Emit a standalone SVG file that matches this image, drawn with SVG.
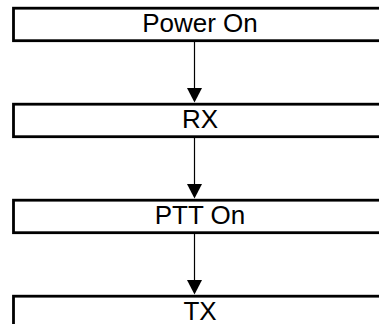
<svg xmlns="http://www.w3.org/2000/svg" width="379" height="324" viewBox="0 0 379 324">
<style>
.box{fill:#fff;stroke:#000;stroke-width:2.8}
.lbl{font-family:"Liberation Sans",Arial,sans-serif;font-size:26px;fill:#000;text-anchor:middle}
.conn{stroke:#000;stroke-width:1.2;fill:none}
.head{fill:#000}
</style>
<rect width="379" height="324" fill="#fff"/>
<g id="connectors">
<line class="conn" x1="194.5" y1="42" x2="194.5" y2="89"/>
<polygon class="head" points="187,88 202,88 194.5,102.5"/>
<line class="conn" x1="194.5" y1="138" x2="194.5" y2="185"/>
<polygon class="head" points="187,184 202,184 194.5,198.5"/>
<line class="conn" x1="194.5" y1="234" x2="194.5" y2="281"/>
<polygon class="head" points="187,280 202,280 194.5,294.5"/>
</g>
<g id="power-on">
<rect class="box" x="13.5" y="8.2" width="374" height="32.5"/>
<text class="lbl" x="200" y="32.3">Power On</text>
</g>
<g id="rx">
<rect class="box" x="13.5" y="104.2" width="374" height="32.5"/>
<text class="lbl" x="200" y="128.3">RX</text>
</g>
<g id="ptt-on">
<rect class="box" x="13.5" y="200.2" width="374" height="32.5"/>
<text class="lbl" x="200" y="224.3">PTT On</text>
</g>
<g id="tx">
<rect class="box" x="13.5" y="296.2" width="374" height="32.5"/>
<text class="lbl" x="200" y="320.3">TX</text>
</g>
</svg>
